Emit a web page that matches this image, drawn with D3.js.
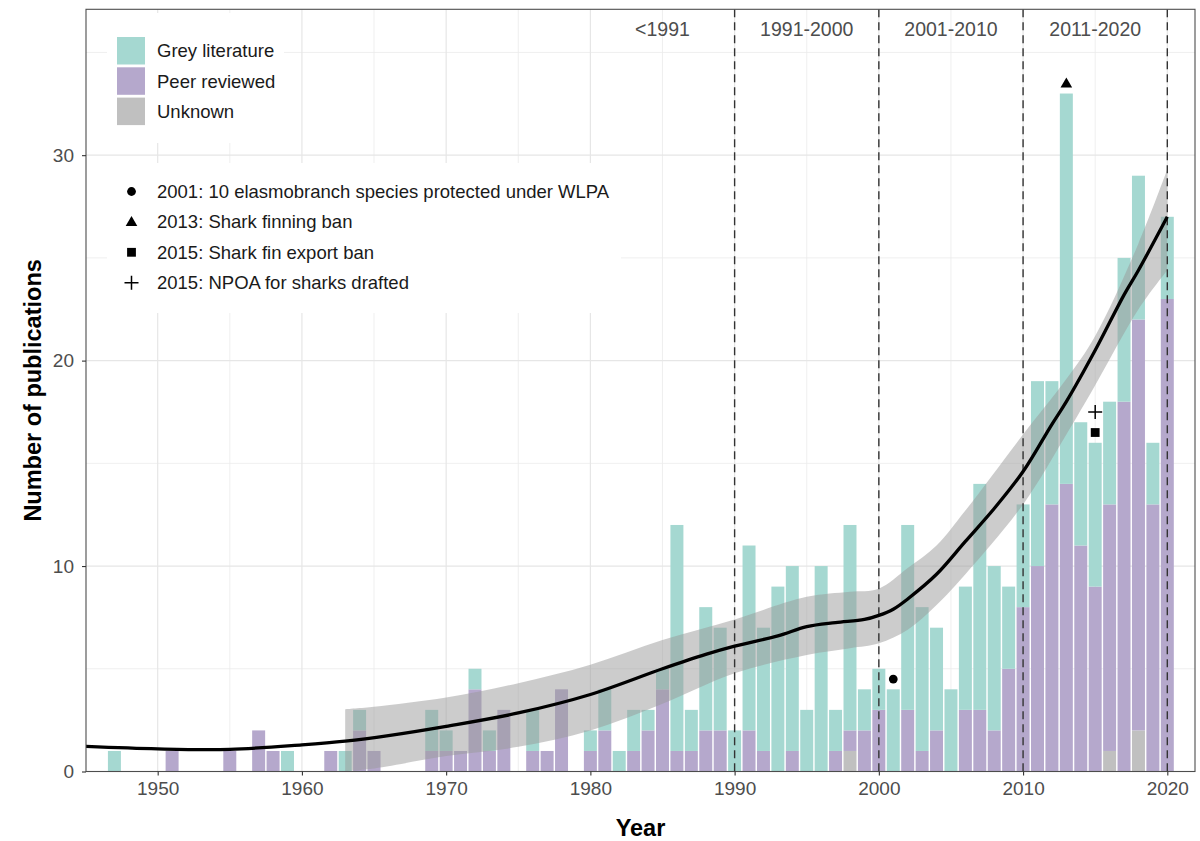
<!DOCTYPE html>
<html>
<head>
<meta charset="utf-8">
<script src="https://cdn.jsdelivr.net/npm/d3@7"></script>
<style>
  html, body { margin: 0; padding: 0; background: #fff; }
  svg { display: block; font-family: "Liberation Sans", Arial, sans-serif; }
</style>
</head>
<body>
<svg id="chart" width="1200" height="841"></svg>
<script>
// Publications per year by type
const barYears = [1947,1951,1955,1957,1958,1959,1962,1963,1964,1965,1969,1970,1971,1972,1973,1974,1976,1977,1978,1980,1981,1982,1983,1984,1985,1986,1987,1988,1989,1990,1991,1992,1993,1994,1995,1996,1997,1998,1999,2000,2001,2002,2003,2004,2005,2006,2007,2008,2009,2010,2011,2012,2013,2014,2015,2016,2017,2018,2019,2020];
const greyLiterature = [1,0,0,0,0,1,0,1,1,0,2,1,0,1,1,0,2,0,0,1,2,1,2,1,1,11,2,6,5,2,9,6,9,9,3,10,2,10,2,2,4,9,7,5,4,6,11,8,4,5,9,6,19,6,7,5,7,7,3,4];
const peerReviewed   = [0,1,1,2,1,0,1,0,2,1,1,1,1,4,1,3,1,1,4,1,2,0,1,2,4,1,1,2,2,0,2,1,0,1,0,0,1,1,2,3,0,3,1,2,0,3,3,2,5,8,10,13,14,11,9,12,18,20,13,23];
const unknownType    = [0,0,0,0,0,0,0,0,0,0,0,0,0,0,0,0,0,0,0,0,0,0,0,0,0,0,0,0,0,0,0,0,0,0,0,0,0,1,0,0,0,0,0,0,0,0,0,0,0,0,0,0,0,0,0,1,0,2,0,0];

// Fitted trend and its confidence band
const fitYears  = [1945,1950,1955,1960,1963,1966,1970,1975,1980,1985,1988,1990,1993,1995,1997,1999,2000,2001,2002,2004,2006,2008,2010,2012,2013,2015,2017,2018,2020];
const fitValues = [1.22,1.1,1.08,1.3,1.48,1.75,2.2,2.85,3.75,5.0,5.7,6.1,6.6,7.05,7.25,7.4,7.6,7.9,8.4,9.6,11.2,12.8,14.6,16.9,18.0,20.5,23.2,24.4,27.0];
const bandYears = [1963,1965,1970,1975,1980,1985,1990,1995,1998,2000,2002,2004,2006,2010,2013,2015,2018,2020];
const bandUpper = [3.03,3.15,3.6,4.3,5.2,6.4,7.4,8.5,8.75,8.9,9.9,11.0,12.7,16.4,19.1,21.2,25.7,29.3];
const bandLower = [0.02,0.15,0.75,1.2,2.0,3.3,4.78,5.67,6.0,6.24,6.9,8.1,9.6,13.0,16.4,18.8,22.5,24.4];

// Policy events
const eventLabels = ["2001: 10 elasmobranch species protected under WLPA","2013: Shark finning ban","2015: Shark fin export ban","2015: NPOA for sharks drafted"];
const eventYears  = [2001, 2013, 2015, 2015];
const eventValues = [4.5, 33.5, 16.5, 17.5];
const eventShapes = ["circle","triangle","square","plus"];

// Decade periods
const periodLabels  = ["<1991","1991-2000","2001-2010","2011-2020"];
const periodCentres = [1985, 1995, 2005, 2015];
const periodBreaks  = [1990, 2000, 2010, 2020];

const typeNames  = ["Grey literature","Peer reviewed","Unknown"];
const typeColors = ["#a5d8d1","#b5a8cc","#c0c0c0"];

const xTicks = [1950,1960,1970,1980,1990,2000,2010,2020];
const yTicks = [0,10,20,30];

const svg = d3.select("#chart");
const P = { left: 86, right: 1195, top: 9.3, bottom: 771.5 };

const x = d3.scaleLinear().domain([1945.03, 2021.92]).range([P.left, P.right]);
const y = d3.scaleLinear().domain([0, 37.1]).range([P.bottom, P.top]);

const defs = svg.append("defs");
defs.append("clipPath").attr("id", "panel")
  .append("rect").attr("x", P.left).attr("y", P.top)
  .attr("width", P.right - P.left).attr("height", P.bottom - P.top);

// grid
const grid = svg.append("g").attr("clip-path", "url(#panel)");
const minorX = d3.range(1945, 2025, 10);
const minorY = [5, 15, 25, 35];
grid.selectAll(".mx").data(minorX).join("line")
  .attr("x1", d => x(d)).attr("x2", d => x(d)).attr("y1", P.top).attr("y2", P.bottom)
  .attr("stroke", "#ebebeb").attr("stroke-width", 0.8);
grid.selectAll(".my").data(minorY).join("line")
  .attr("y1", d => y(d)).attr("y2", d => y(d)).attr("x1", P.left).attr("x2", P.right)
  .attr("stroke", "#ebebeb").attr("stroke-width", 0.8);
grid.selectAll(".Mx").data(xTicks).join("line")
  .attr("x1", d => x(d)).attr("x2", d => x(d)).attr("y1", P.top).attr("y2", P.bottom)
  .attr("stroke", "#e6e6e6").attr("stroke-width", 1.2);
grid.selectAll(".My").data(yTicks).join("line")
  .attr("y1", d => y(d)).attr("y2", d => y(d)).attr("x1", P.left).attr("x2", P.right)
  .attr("stroke", "#e6e6e6").attr("stroke-width", 1.2);

// stacked bars: unknown at the bottom, then peer reviewed, then grey literature
const rows = barYears.map((yr, i) => ({
  year: yr, grey: greyLiterature[i], peer: peerReviewed[i], unknown: unknownType[i]
}));
const keys = ["unknown", "peer", "grey"];
const keyColor = { grey: typeColors[0], peer: typeColors[1], unknown: typeColors[2] };
const stacked = d3.stack().keys(keys)(rows);
const bw = x(1950.9) - x(1950);
const plot = svg.append("g").attr("clip-path", "url(#panel)");
stacked.forEach(layer => {
  plot.append("g").selectAll("rect")
    .data(layer.filter(d => d[1] > d[0]))
    .join("rect")
    .attr("x", d => x(d.data.year) - bw / 2)
    .attr("width", bw)
    .attr("y", d => y(d[1]))
    .attr("height", d => y(d[0]) - y(d[1]))
    .attr("fill", keyColor[layer.key]);
});

// confidence band
const bandData = bandYears.map((yr, i) => ({ year: yr, lo: bandLower[i], hi: bandUpper[i] }));
plot.append("path")
  .datum(bandData)
  .attr("d", d3.area().curve(d3.curveCatmullRom.alpha(0.5))
    .x(d => x(d.year)).y0(d => y(d.lo)).y1(d => y(d.hi)))
  .attr("fill", "#999999").attr("fill-opacity", 0.5);

// period dividers
plot.selectAll(".vline").data(periodBreaks).join("line")
  .attr("x1", d => x(d)).attr("x2", d => x(d)).attr("y1", P.top).attr("y2", P.bottom)
  .attr("stroke", "#333").attr("stroke-width", 1.4).attr("stroke-dasharray", "8,5");

// fitted trend
const fitData = fitYears.map((yr, i) => ({ year: yr, v: fitValues[i] }));
plot.append("path")
  .datum(fitData)
  .attr("d", d3.line().curve(d3.curveCatmullRom.alpha(0.5)).x(d => x(d.year)).y(d => y(d.v)))
  .attr("fill", "none").attr("stroke", "#000").attr("stroke-width", 3.3)
  .attr("stroke-linecap", "butt");

// period labels
plot.selectAll(".plabel").data(periodLabels).join("text")
  .attr("x", (d, i) => x(periodCentres[i])).attr("y", 36)
  .attr("text-anchor", "middle").attr("font-size", 19.5).attr("fill", "#4d4d4d")
  .text(d => d);

// marker drawing
function drawShape(g, shape, cx, cy) {
  if (shape === "circle") {
    g.append("circle").attr("cx", cx).attr("cy", cy).attr("r", 4.4).attr("fill", "#000");
  } else if (shape === "triangle") {
    g.append("path").attr("d", `M${cx},${cy - 5.8}L${cx + 5.8},${cy + 4.2}L${cx - 5.8},${cy + 4.2}Z`).attr("fill", "#000");
  } else if (shape === "square") {
    g.append("rect").attr("x", cx - 4.4).attr("y", cy - 4.4).attr("width", 8.8).attr("height", 8.8).attr("fill", "#000");
  } else if (shape === "plus") {
    g.append("path").attr("d", `M${cx - 7},${cy}H${cx + 7}M${cx},${cy - 7}V${cy + 7}`)
      .attr("stroke", "#000").attr("stroke-width", 1.5).attr("fill", "none");
  }
}
const marks = svg.append("g");
eventYears.forEach((yr, i) => drawShape(marks, eventShapes[i], x(yr), y(eventValues[i])));

// panel border
svg.append("rect").attr("x", P.left).attr("y", P.top)
  .attr("width", P.right - P.left).attr("height", P.bottom - P.top)
  .attr("fill", "none").attr("stroke", "#4d4d4d").attr("stroke-width", 1.1);

// axes
const xAxis = svg.append("g").attr("transform", `translate(0,${P.bottom})`)
  .call(d3.axisBottom(x).tickValues(xTicks).tickFormat(d3.format("d")).tickSize(4).tickPadding(6));
const yAxis = svg.append("g").attr("transform", `translate(${P.left},0)`)
  .call(d3.axisLeft(y).tickValues(yTicks).tickSize(4).tickPadding(8));
[xAxis, yAxis].forEach(a => {
  a.select(".domain").remove();
  a.selectAll(".tick line").attr("stroke", "#333").attr("stroke-width", 1.1);
  a.selectAll(".tick text").attr("fill", "#4d4d4d").attr("font-size", 19)
    .attr("font-family", "'Liberation Sans', Arial, sans-serif");
});

svg.append("text").attr("x", (P.left + P.right) / 2).attr("y", 836)
  .attr("text-anchor", "middle").attr("font-size", 23.5).attr("font-weight", "bold").text("Year");
svg.append("text").attr("transform", `translate(41,${(P.top + P.bottom) / 2}) rotate(-90)`)
  .attr("text-anchor", "middle").attr("font-size", 23.5).attr("font-weight", "bold")
  .text("Number of publications");

// legend: publication type
const lg1 = svg.append("g");
lg1.append("rect").attr("x", 107).attr("y", 13).attr("width", 177).attr("height", 130).attr("fill", "#fff");
typeNames.forEach((name, i) => {
  const ky = 37 + i * 30.3;
  lg1.append("rect").attr("x", 117).attr("y", ky).attr("width", 28).attr("height", 27.5).attr("fill", typeColors[i]);
  lg1.append("text").attr("x", 157).attr("y", ky + 13.8).attr("dy", "0.35em")
    .attr("font-size", 18.5).attr("fill", "#1a1a1a").text(name);
});

// legend: events
const lg2 = svg.append("g");
lg2.append("rect").attr("x", 107).attr("y", 163).attr("width", 514).attr("height", 150).attr("fill", "#fff");
eventLabels.forEach((lab, i) => {
  const cy = 191.5 + i * 30.4;
  drawShape(lg2, eventShapes[i], 131.5, cy);
  lg2.append("text").attr("x", 157).attr("y", cy).attr("dy", "0.35em")
    .attr("font-size", 18.5).attr("fill", "#1a1a1a").text(lab);
});
</script>
</body>
</html>
